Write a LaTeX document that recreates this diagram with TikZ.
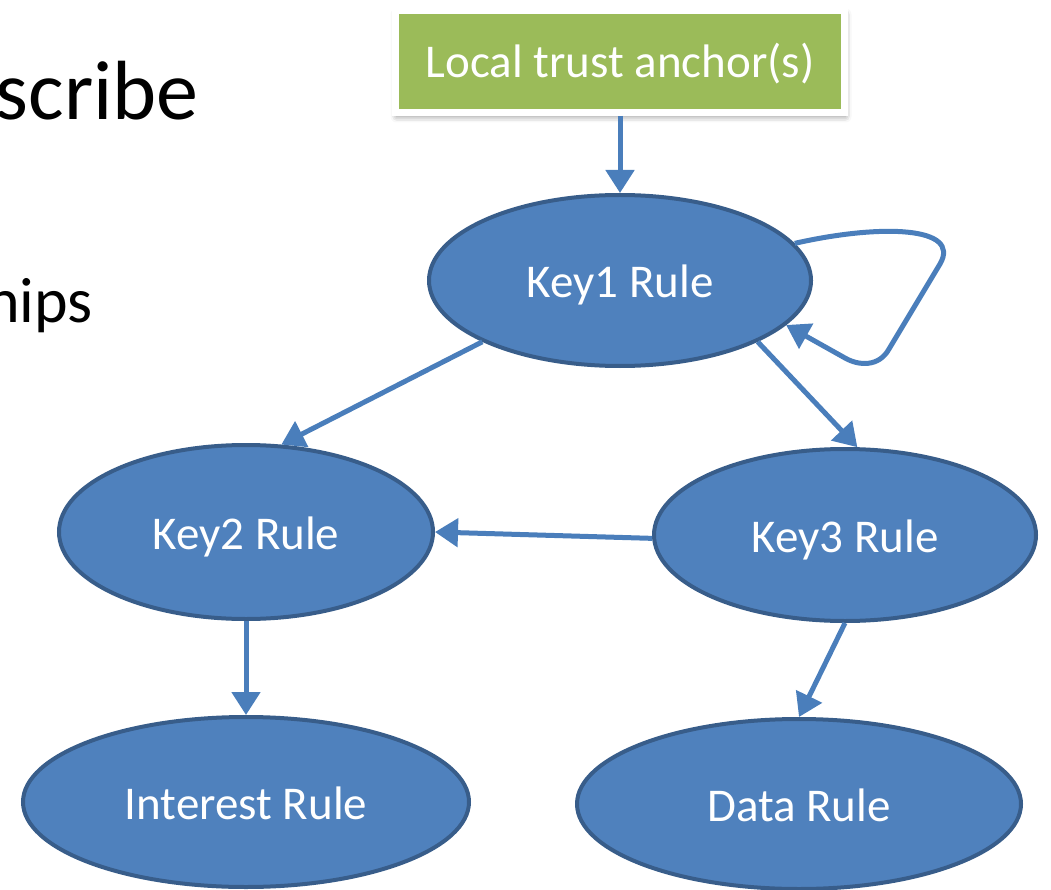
\documentclass[tikz,border=0pt]{standalone}
\usepackage{fontspec}
\setmainfont{Carlito}
\usetikzlibrary{shapes.geometric,arrows.meta,shadows.blur}
\definecolor{rulefill}{HTML}{4F81BD}
\definecolor{rulebd}{HTML}{385D8A}
\definecolor{linkblue}{HTML}{4A7EBB}
\definecolor{anchorgreen}{HTML}{9BBB59}
\tikzset{
  rulenode/.style={ellipse, draw=rulebd, fill=rulefill, line width=4pt,
    text=white, font=\fontsize{47}{56}\selectfont, inner sep=0pt,
    text height=34pt, text depth=0pt},
  anchorbox/.style={rectangle, fill=anchorgreen, draw=white, line width=7pt,
    text=white, font=\fontsize{47}{56}\selectfont, inner sep=0pt,
    text height=33pt, text depth=0pt,
    blur shadow={shadow xshift=1pt, shadow yshift=-4pt,
      shadow blur radius=6pt, shadow opacity=45}},
  link/.style={draw=linkblue, line width=5pt,
    -{Triangle[length=23pt,width=28pt]}},
  headline/.style={inner sep=0pt, anchor=base east},
}
\begin{document}
\begin{tikzpicture}[x=1pt,y=-1pt]
\clip (0,0) rectangle (1051,890);

% slide text running in from the left
\node[headline, font=\fontsize{84}{100}\selectfont] (t1) at (199,120) {scribe};
\node[headline, font=\fontsize{64}{76}\selectfont] (t2) at (93,322) {nips};

% trust anchor
\node[anchorbox, minimum width=449pt, minimum height=102pt] (ta) at (620,61.5) {Local trust anchor(s)};

% rules
\node[rulenode, minimum width=382pt, minimum height=171pt] (k1) at (620,280.5) {Key1 Rule};
\node[rulenode, minimum width=374pt, minimum height=174pt] (k2) at (246,532) {Key2 Rule};
\node[rulenode, minimum width=382pt, minimum height=172pt] (k3) at (845,535) {Key3 Rule};
\node[rulenode, minimum width=446pt, minimum height=170pt] (ir) at (246,802) {Interest Rule};
\node[rulenode, minimum width=444pt, minimum height=170pt] (dr) at (799,804) {Data Rule};

% connectors
\draw[link] (ta.south) -- (k1.north);
\draw[link] (k1.204.5) -- (k2.68);
\draw[link] (k1.-24.5) -- (k3.82);
\draw[link] (k3.181) -- (k2.0);
\draw[link] (k2.south) -- (ir.north);
\draw[link] (k3.south) -- (dr.north);
% self loop on Key1
\draw[link] (k1.12) .. controls (880,224) and (962,226) .. (940,264)
  -- (889,349) .. controls (879,367) and (859,366) .. (845,358)
  -- (k1.-15);
\end{tikzpicture}
\end{document}
